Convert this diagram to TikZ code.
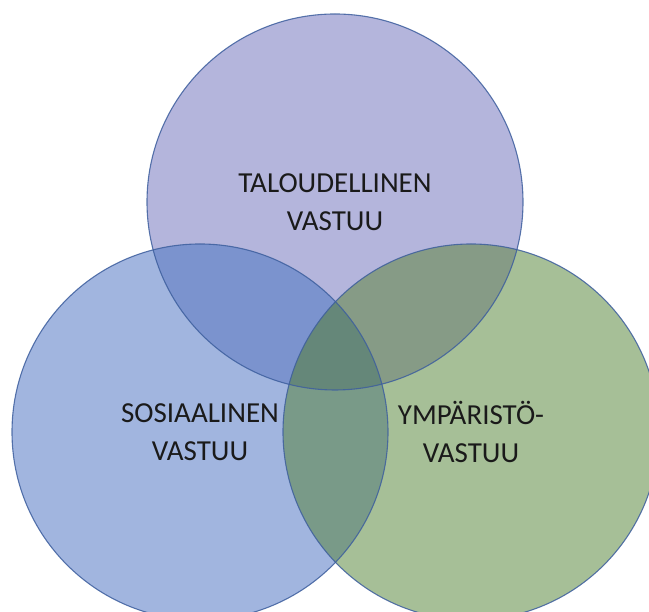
\documentclass[tikz,border=0pt]{standalone}
\usepackage{fontspec}
\setmainfont{Carlito}
\usepackage{xcolor}
\usepackage{tikz}

\definecolor{talousfill}{HTML}{B4B5DC}
\definecolor{sosiaalifill}{HTML}{A1B5DF}
\definecolor{ymparistofill}{HTML}{A6BF97}
\definecolor{taloussosiaali}{HTML}{7B93CE}
\definecolor{talousymparisto}{HTML}{869B86}
\definecolor{sosiaaliymparisto}{HTML}{799A88}
\definecolor{kaikki}{HTML}{658779}
\definecolor{reuna}{HTML}{3E5F9E}
\definecolor{teksti}{HTML}{1A1A1A}

\begin{document}
\begin{tikzpicture}[x=1pt, y=1pt,
    reunaviiva/.style={draw=reuna, draw opacity=0.85, line width=1.1pt},
    nimi/.style={align=center, text=teksti, font=\fontsize{29}{38}\selectfont}]

    \useasboundingbox (0,0) rectangle (649,612);

    % Centres of the three circles
    \coordinate (talous) at (335,410);
    \coordinate (sosiaali) at (200,180);
    \coordinate (ymparisto) at (471,180);
    \def\sade{188}

    % Plain fills of the circles
    \fill[talousfill] (talous) circle (\sade);
    \fill[sosiaalifill] (sosiaali) circle (\sade);
    \fill[ymparistofill] (ymparisto) circle (\sade);

    % Overlaps with the top circle
    \begin{scope}
        \clip (talous) circle (\sade);
        \fill[taloussosiaali] (sosiaali) circle (\sade);
        \fill[talousymparisto] (ymparisto) circle (\sade);
    \end{scope}

    % Overlap of the lower circles and the middle part
    \begin{scope}
        \clip (sosiaali) circle (\sade);
        \fill[sosiaaliymparisto] (ymparisto) circle (\sade);
        \clip (talous) circle (\sade);
        \fill[kaikki] (ymparisto) circle (\sade);
    \end{scope}

    % Outlines
    \draw[reunaviiva] (talous) circle (\sade);
    \draw[reunaviiva] (sosiaali) circle (\sade);
    \draw[reunaviiva] (ymparisto) circle (\sade);

    % Labels
    \node[nimi] (talousnimi) at (talous) {TALOUDELLINEN\\VASTUU};
    \node[nimi] (sosiaalinimi) at (sosiaali) {SOSIAALINEN\\VASTUU};
    \node[nimi] (ymparistonimi) at (ymparisto) {YMPÄRISTÖ-\\VASTUU};

\end{tikzpicture}
\end{document}
